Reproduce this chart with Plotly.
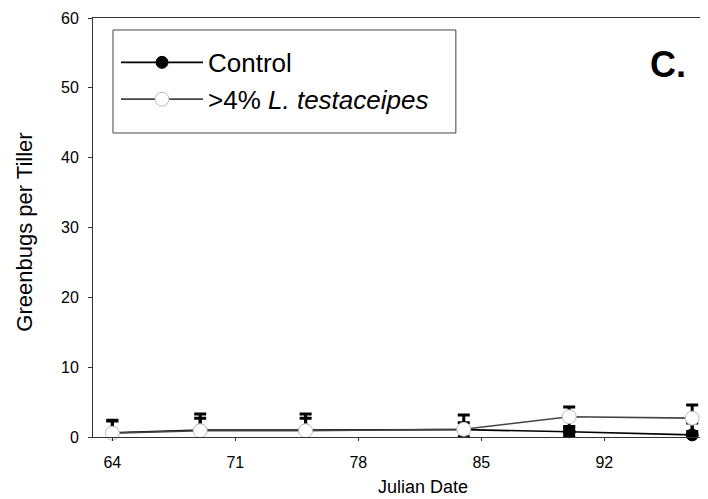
import plotly.graph_objects as go

# Data
julian_dates = [64, 69, 75, 84, 90, 97]
control_mean = [0.6, 1.0, 1.0, 1.05, 0.75, 0.3]
control_err = [1.7, 2.3, 2.3, 1.0, 0.6, 1.7]
lt_mean = [0.55, 0.9, 0.9, 1.1, 2.9, 2.7]
lt_err = [1.85, 1.8, 1.8, 2.05, 1.4, 1.9]
x_ticks = [64, 71, 78, 85, 92]
y_ticks = [0, 10, 20, 30, 40, 50, 60]

FONT = "Liberation Sans, Arial, sans-serif"

fig = go.Figure()

fig.add_trace(go.Scatter(
    x=julian_dates, y=control_mean, name="Control", mode="lines+markers",
    line=dict(color="black", width=1.6),
    marker=dict(symbol="circle", size=12, color="black", line=dict(color="black", width=1)),
    error_y=dict(type="data", array=control_err, color="black", thickness=3, width=6),
    cliponaxis=False, legendgroup="a",
))
fig.add_trace(go.Scatter(
    x=julian_dates, y=lt_mean, name=">4% <i>L. testaceipes</i>", mode="lines+markers",
    line=dict(color="#444444", width=1.6),
    marker=dict(symbol="circle", size=14, color="white", line=dict(color="#bbbbbb", width=1)),
    error_y=dict(type="data", array=lt_err, color="black", thickness=3, width=6),
    cliponaxis=False, legendgroup="b",
))

# legend frame
fig.add_shape(type="rect", xref="paper", yref="paper",
              x0=0.0325, x1=0.590, y0=0.7255, y1=0.9714,
              line=dict(color="#444444", width=1), fillcolor="white", layer="below")

fig.add_annotation(text="<b>C.</b>", xref="paper", yref="paper", x=0.935, y=0.888,
                   showarrow=False, font=dict(family=FONT, size=36, color="black"),
                   xanchor="center", yanchor="middle")
fig.add_annotation(text="Julian Date", xref="paper", yref="paper", x=0.537, y=-0.119,
                   showarrow=False, font=dict(family=FONT, size=18, color="black"),
                   xanchor="center", yanchor="middle")
fig.add_annotation(text="Greenbugs per Tiller", xref="paper", yref="paper", x=-0.1106, y=0.49,
                   showarrow=False, textangle=-90, font=dict(family=FONT, size=22, color="black"),
                   xanchor="center", yanchor="middle")

# the page places the figure 8px in from the top-left corner
fig.update_layout(
    width=700, height=491,
    margin=dict(l=85, r=0, t=10, b=62),
    paper_bgcolor="white", plot_bgcolor="white",
    font=dict(family=FONT, color="black"),
    showlegend=True,
    legend=dict(x=0.0374, y=0.95, xanchor="left", yanchor="top",
                bgcolor="rgba(0,0,0,0)", borderwidth=0,
                font=dict(family=FONT, size=26, color="black"),
                itemwidth=82, tracegroupgap=0, traceorder="grouped"),
    xaxis=dict(range=[62.9, 97.9], tickmode="array", tickvals=x_ticks,
               showgrid=False, zeroline=False, showline=True, linecolor="#333333", linewidth=1,
               mirror=True, ticks="outside", ticklen=3, tickcolor="#333333",
               tickfont=dict(family=FONT, size=16, color="black"), ticklabelstandoff=8),
    yaxis=dict(range=[0, 60], tickmode="array", tickvals=y_ticks,
               showgrid=False, zeroline=False, showline=True, linecolor="#333333", linewidth=1,
               ticks="outside", ticklen=4, tickcolor="#333333",
               tickfont=dict(family=FONT, size=16, color="black"), ticklabelstandoff=6),
)

fig.write_html("out.html")
